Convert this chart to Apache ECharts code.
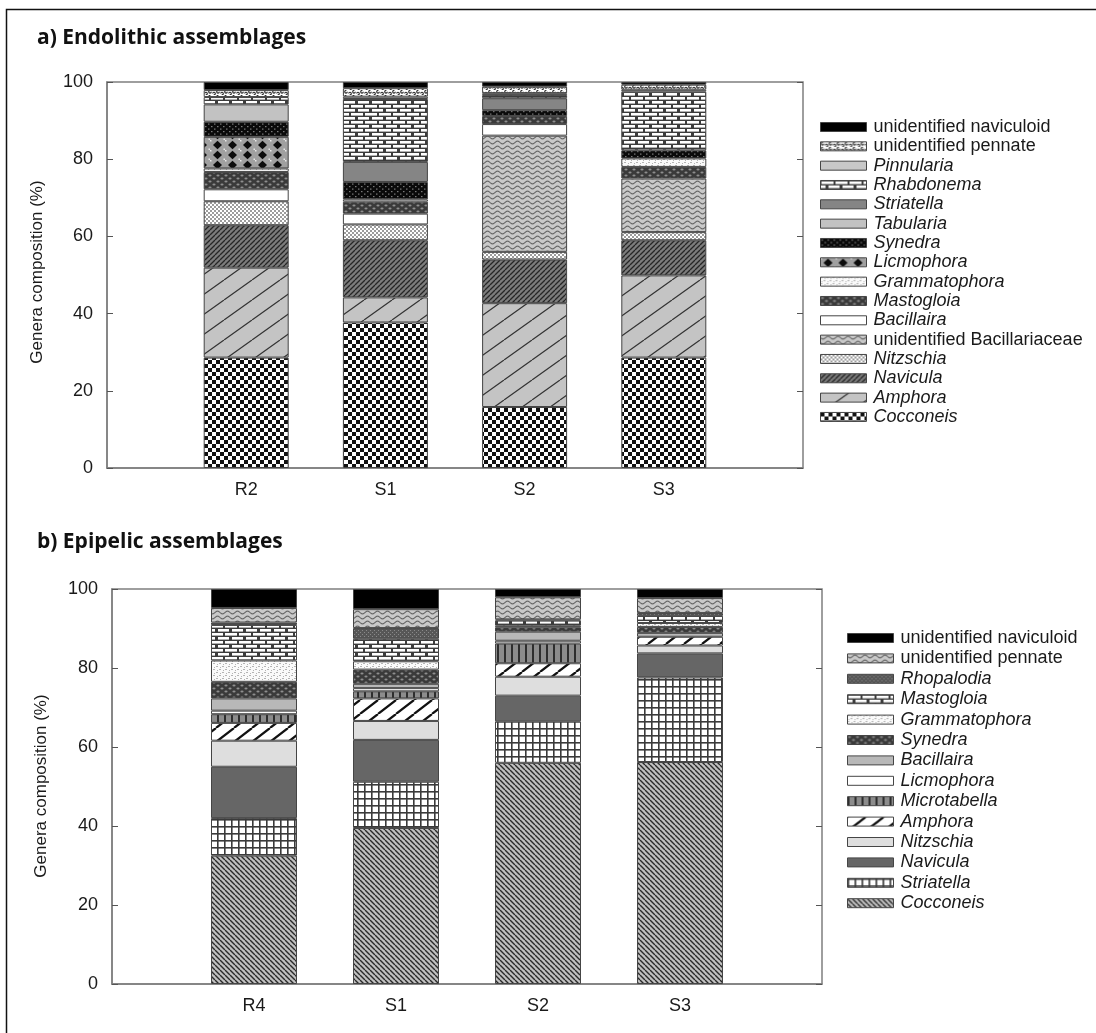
<!DOCTYPE html>
<html>
<head>
<meta charset="utf-8">
<script src="https://cdn.jsdelivr.net/npm/echarts@6/dist/echarts.min.js"></script>
<style>
  html, body { margin: 0; padding: 0; background: #fff; }
  #chart { width: 1096px; height: 1033px; }
</style>
</head>
<body>
<div id="chart"></div>
<script>
// ---- data -----------------------------------------------------------------
const endoSites = ['R2', 'S1', 'S2', 'S3'];
const epiSites = ['R4', 'S1', 'S2', 'S3'];
const yTicks = [0, 20, 40, 60, 80, 100];

// a) Endolithic assemblages, % per genus (stack order: bottom first)
const endoCocconeis      = [28.6, 37.7, 15.8, 28.6];
const endoAmphora        = [23.3, 6.5, 26.9, 21.3];
const endoNavicula       = [11.0, 14.8, 11.3, 9.1];
const endoNitzschia      = [6.2, 4.1, 2.0, 2.1];
const endoUnidBacill     = [0, 0, 30.1, 13.9];
const endoBacillaira     = [3.1, 2.8, 3.0, 0];
const endoMastogloia     = [4.5, 3.1, 2.1, 3.0];
const endoGrammatophora  = [0.9, 0.6, 0, 2.2];
const endoLicmophora     = [8.2, 0, 0, 0];
const endoSynedra        = [3.9, 4.5, 1.5, 2.1];
const endoTabularia      = [4.5, 0, 0, 0];
const endoStriatella     = [0, 5.2, 3.1, 0];
const endoRhabdonema     = [1.9, 16.3, 0.8, 15.2];
const endoPinnularia     = [0, 0.6, 0.5, 0.5];
const endoUnidPennate    = [1.8, 2.2, 1.7, 1.3];
const endoUnidNavicul    = [2.1, 1.6, 1.2, 0.7];

// b) Epipelic assemblages, % per genus (stack order: bottom first)
const epiCocconeis       = [32.5, 39.5, 56.0, 56.2];
const epiStriatella      = [9.5, 11.7, 10.5, 21.4];
const epiNavicula        = [13.0, 10.6, 6.5, 6.1];
const epiNitzschia       = [6.6, 4.8, 4.8, 2.0];
const epiAmphora         = [4.5, 5.7, 3.4, 2.2];
const epiMicrotabella    = [2.2, 1.8, 5.0, 0];
const epiLicmophora      = [0.9, 0.8, 0.7, 0];
const epiBacillaira      = [3.1, 1.1, 2.3, 1.0];
const epiSynedra         = [4.2, 3.6, 1.1, 1.5];
const epiGrammatophora   = [5.4, 2.1, 0.4, 1.0];
const epiMastogloia      = [9.0, 5.7, 1.3, 1.8];
const epiRhopalodia      = [0.6, 2.7, 0.3, 0.7];
const epiUnidPennate     = [3.7, 4.8, 5.6, 3.8];
const epiUnidNavicul     = [4.8, 5.1, 2.1, 2.3];

// ---- fill patterns ----------------------------------------------------------
function tile(w, h, paint) {
  const c = document.createElement('canvas');
  c.width = w; c.height = h;
  const g = c.getContext('2d');
  paint(g, w, h);
  return { image: c, repeat: 'repeat' };
}
function diagonal(g, w, h, rising) {
  g.beginPath();
  if (rising) {
    g.moveTo(0, h); g.lineTo(w, 0);
    g.moveTo(-w, h); g.lineTo(0, 0);
    g.moveTo(w, h); g.lineTo(2 * w, 0);
  } else {
    g.moveTo(0, 0); g.lineTo(w, h);
    g.moveTo(-w, 0); g.lineTo(0, h);
    g.moveTo(w, 0); g.lineTo(2 * w, h);
  }
  g.stroke();
}
const P = {
  checker: tile(8, 8, g => {
    g.fillStyle = '#fff'; g.fillRect(0, 0, 8, 8);
    g.fillStyle = '#111'; g.fillRect(0, 0, 4, 4); g.fillRect(4, 4, 4, 4);
  }),
  sparseSlashGrey: tile(28, 20, (g, w, h) => {
    g.fillStyle = '#c4c4c4'; g.fillRect(0, 0, w, h);
    g.strokeStyle = '#333'; g.lineWidth = 1.2; diagonal(g, w, h, true);
  }),
  denseSlashDark: tile(5, 5, (g, w, h) => {
    g.fillStyle = '#7c7c7c'; g.fillRect(0, 0, w, h);
    g.strokeStyle = '#262626'; g.lineWidth = 1.3; diagonal(g, w, h, true);
  }),
  fineDots: tile(4, 4, g => {
    g.fillStyle = '#fff'; g.fillRect(0, 0, 4, 4);
    g.fillStyle = '#9c9c9c'; g.fillRect(0, 0, 2, 2); g.fillRect(2, 2, 2, 2);
  }),
  wave: tile(10, 5, (g, w, h) => {
    g.fillStyle = '#c9c9c9'; g.fillRect(0, 0, w, h);
    g.strokeStyle = '#666'; g.lineWidth = 1.1;
    g.beginPath();
    for (let x = 0; x <= w; x += 0.5) {
      const y = 2.5 + 1.4 * Math.sin(2 * Math.PI * x / w);
      if (x === 0) g.moveTo(x, y); else g.lineTo(x, y);
    }
    g.stroke();
  }),
  mottled: tile(8, 6, (g, w, h) => {
    g.fillStyle = '#3a3a3a'; g.fillRect(0, 0, w, h);
    g.fillStyle = '#8e8e8e';
    g.beginPath(); g.ellipse(2, 1.5, 1.6, 1.1, 0, 0, Math.PI * 2); g.fill();
    g.beginPath(); g.ellipse(6, 4.5, 1.6, 1.1, 0, 0, Math.PI * 2); g.fill();
  }),
  lightDots: tile(6, 6, g => {
    g.fillStyle = '#fafafa'; g.fillRect(0, 0, 6, 6);
    g.fillStyle = '#b4b4b4';
    g.fillRect(0, 0, 2, 1); g.fillRect(3, 3, 2, 1); g.fillRect(1, 4, 1, 1); g.fillRect(4, 1, 1, 1);
  }),
  diamonds: tile(15, 10, (g, w, h) => {
    g.fillStyle = '#a0a0a0'; g.fillRect(0, 0, w, h);
    g.fillStyle = '#0c0c0c';
    g.beginPath(); g.moveTo(7.5, 0.8); g.lineTo(12, 5); g.lineTo(7.5, 9.2); g.lineTo(3, 5); g.closePath(); g.fill();
    g.fillStyle = '#e8e8e8';
    g.fillRect(0, 0, 1.5, 1.5); g.fillRect(w - 1.5, h - 1.5, 1.5, 1.5);
  }),
  blackSpeckle: tile(6, 5, g => {
    g.fillStyle = '#0a0a0a'; g.fillRect(0, 0, 6, 5);
    g.fillStyle = '#7a7a7a'; g.fillRect(1, 1, 1.5, 1.2); g.fillRect(4, 3.5, 1.5, 1.2);
  }),
  brick: tile(14, 8, g => {
    g.fillStyle = '#3c3c3c'; g.fillRect(0, 0, 14, 8);
    g.fillStyle = '#fff';
    g.fillRect(1, 1, 12, 2.6);
    g.fillRect(0, 5, 5, 2.6); g.fillRect(8, 5, 6, 2.6);
  }),
  squiggle: tile(8, 5, g => {
    g.fillStyle = '#fff'; g.fillRect(0, 0, 8, 5);
    g.strokeStyle = '#2a2a2a'; g.lineWidth = 1.1;
    g.beginPath(); g.arc(2, 1.8, 1.3, 0, Math.PI * 1.6); g.stroke();
    g.beginPath(); g.arc(6, 3.6, 1.3, Math.PI, Math.PI * 2.6); g.stroke();
  }),
  denseBackslash: tile(5, 5, (g, w, h) => {
    g.fillStyle = '#c0c0c0'; g.fillRect(0, 0, w, h);
    g.strokeStyle = '#2a2a2a'; g.lineWidth = 1.4; diagonal(g, w, h, false);
  }),
  grid: tile(7, 7, g => {
    g.fillStyle = '#fff'; g.fillRect(0, 0, 7, 7);
    g.fillStyle = '#3a3a3a'; g.fillRect(0, 0, 7, 1.6); g.fillRect(0, 0, 1.6, 7);
  }),
  boldSlash: tile(18, 14, (g, w, h) => {
    g.fillStyle = '#fff'; g.fillRect(0, 0, w, h);
    g.strokeStyle = '#111'; g.lineWidth = 2.2; diagonal(g, w, h, true);
  }),
  vStripes: tile(7, 4, g => {
    g.fillStyle = '#8c8c8c'; g.fillRect(0, 0, 7, 4);
    g.fillStyle = '#2e2e2e'; g.fillRect(0, 0, 2, 4);
  }),
  greyDots: tile(4, 4, g => {
    g.fillStyle = '#575757'; g.fillRect(0, 0, 4, 4);
    g.fillStyle = '#8a8a8a'; g.fillRect(0, 0, 1, 1); g.fillRect(2, 2, 1, 1);
  })
};

// genus lists: [legend label, values, fill, italic]
const endoGenera = [
  ['Cocconeis', endoCocconeis, P.checker, true],
  ['Amphora', endoAmphora, P.sparseSlashGrey, true],
  ['Navicula', endoNavicula, P.denseSlashDark, true],
  ['Nitzschia', endoNitzschia, P.fineDots, true],
  ['unidentified Bacillariaceae', endoUnidBacill, P.wave, false],
  ['Bacillaira', endoBacillaira, '#ffffff', true],
  ['Mastogloia', endoMastogloia, P.mottled, true],
  ['Grammatophora', endoGrammatophora, P.lightDots, true],
  ['Licmophora', endoLicmophora, P.diamonds, true],
  ['Synedra', endoSynedra, P.blackSpeckle, true],
  ['Tabularia', endoTabularia, '#c2c2c2', true],
  ['Striatella', endoStriatella, '#858585', true],
  ['Rhabdonema', endoRhabdonema, P.brick, true],
  ['Pinnularia', endoPinnularia, '#c8c8c8', true],
  ['unidentified pennate', endoUnidPennate, P.squiggle, false],
  ['unidentified naviculoid', endoUnidNavicul, '#000000', false]
];
const epiGenera = [
  ['Cocconeis', epiCocconeis, P.denseBackslash, true],
  ['Striatella', epiStriatella, P.grid, true],
  ['Navicula', epiNavicula, '#666666', true],
  ['Nitzschia', epiNitzschia, '#dedede', true],
  ['Amphora', epiAmphora, P.boldSlash, true],
  ['Microtabella', epiMicrotabella, P.vStripes, true],
  ['Licmophora', epiLicmophora, '#ffffff', true],
  ['Bacillaira', epiBacillaira, '#b8b8b8', true],
  ['Synedra', epiSynedra, P.mottled, true],
  ['Grammatophora', epiGrammatophora, P.lightDots, true],
  ['Mastogloia', epiMastogloia, P.brick, true],
  ['Rhopalodia', epiRhopalodia, P.greyDots, true],
  ['unidentified pennate', epiUnidPennate, P.wave, false],
  ['unidentified naviculoid', epiUnidNavicul, '#000000', false]
];

// ---- option -----------------------------------------------------------------
const FONT = "'Liberation Sans', Arial, sans-serif";
const BORDER = '#454545';

function makeSeries(genera, idx, stack, barWidth) {
  return genera.map(([name, vals, fill]) => ({
    type: 'bar',
    name: name,
    stack: stack,
    xAxisIndex: idx,
    yAxisIndex: idx * 2,
    barWidth: barWidth,
    data: [null].concat(vals.map(v => (v > 0 ? v : '-')), [null]),
    itemStyle: { color: fill, borderColor: BORDER, borderWidth: 1 },
    emphasis: { disabled: true },
    silent: true
  }));
}
function makeLegend(genera, left, top, gap) {
  return {
    orient: 'vertical',
    left: left,
    top: top,
    icon: 'rect',
    itemWidth: 46,
    itemHeight: 9,
    itemGap: gap,
    selectedMode: false,
    textStyle: { fontFamily: FONT, fontSize: 18, color: '#1a1a1a', lineHeight: 16, padding: [0, 0, 0, 2] },
    data: genera.slice().reverse().map(([name, , fill, italic]) => ({
      name: name,
      itemStyle: { color: fill, borderColor: BORDER, borderWidth: 1 },
      textStyle: { fontStyle: italic ? 'italic' : 'normal' }
    }))
  };
}
function xAxisFor(sites, idx) {
  return {
    type: 'category',
    gridIndex: idx,
    data: [''].concat(sites, ['']),
    boundaryGap: false,
    axisTick: { show: false },
    axisLine: { lineStyle: { color: '#7f7f7f', width: 1.5 } },
    axisLabel: { interval: 0, fontFamily: FONT, fontSize: 18, color: '#1a1a1a', margin: 13 },
    splitLine: { show: false }
  };
}
function yAxesFor(idx) {
  const base = {
    type: 'value',
    gridIndex: idx,
    min: yTicks[0],
    max: yTicks[yTicks.length - 1],
    interval: yTicks[1] - yTicks[0],
    splitLine: { show: false },
    axisTick: { show: true, inside: true, length: 6, lineStyle: { color: '#555', width: 1 } }
  };
  return [
    Object.assign({}, base, {
      position: 'left',
      axisLine: { show: true, lineStyle: { color: '#7f7f7f', width: 1.5 } },
      axisLabel: { fontFamily: FONT, fontSize: 18, color: '#1a1a1a', margin: 14 }
    }),
    Object.assign({}, base, {
      position: 'right',
      axisLine: { show: false },
      axisLabel: { show: false }
    })
  ];
}

const option = {
  animation: false,
  backgroundColor: '#ffffff',
  grid: [
    { left: 107, top: 82, width: 696, height: 386, show: true, borderColor: '#7f7f7f', borderWidth: 1.5 },
    { left: 112, top: 589, width: 710, height: 395, show: true, borderColor: '#7f7f7f', borderWidth: 1.5 }
  ],
  xAxis: [xAxisFor(endoSites, 0), xAxisFor(epiSites, 1)],
  yAxis: yAxesFor(0).concat(yAxesFor(1)),
  legend: [
    makeLegend(endoGenera, 815, 113, 1.33),
    makeLegend(epiGenera, 842, 624, 2.4)
  ],
  series: makeSeries(endoGenera, 0, 'endo', 85).concat(makeSeries(epiGenera, 1, 'epi', 86)),
  graphic: [
    { type: 'rect', left: 4, top: 7, silent: true,
      shape: { width: 1200, height: 1100 },
      style: { fill: 'none', stroke: '#111', lineWidth: 1.5 } },
    { type: 'text', left: 37, top: 28, silent: true,
      style: { text: 'a) Endolithic assemblages', font: "bold 21px 'Open Sans', sans-serif", fill: '#111' } },
    { type: 'text', left: 37, top: 532, silent: true,
      style: { text: 'b) Epipelic assemblages', font: "bold 21px 'Open Sans', sans-serif", fill: '#111' } },
    { type: 'text', x: 37, y: 272, rotation: Math.PI / 2, silent: true,
      style: { text: 'Genera composition (%)', font: "17px 'Liberation Sans', Arial, sans-serif", fill: '#1a1a1a', align: 'center', verticalAlign: 'middle' } },
    { type: 'text', x: 41, y: 786, rotation: Math.PI / 2, silent: true,
      style: { text: 'Genera composition (%)', font: "17px 'Liberation Sans', Arial, sans-serif", fill: '#1a1a1a', align: 'center', verticalAlign: 'middle' } }
  ]
};

const chart = echarts.init(document.getElementById('chart'), null, { renderer: 'canvas' });
chart.setOption(option);
</script>
</body>
</html>
